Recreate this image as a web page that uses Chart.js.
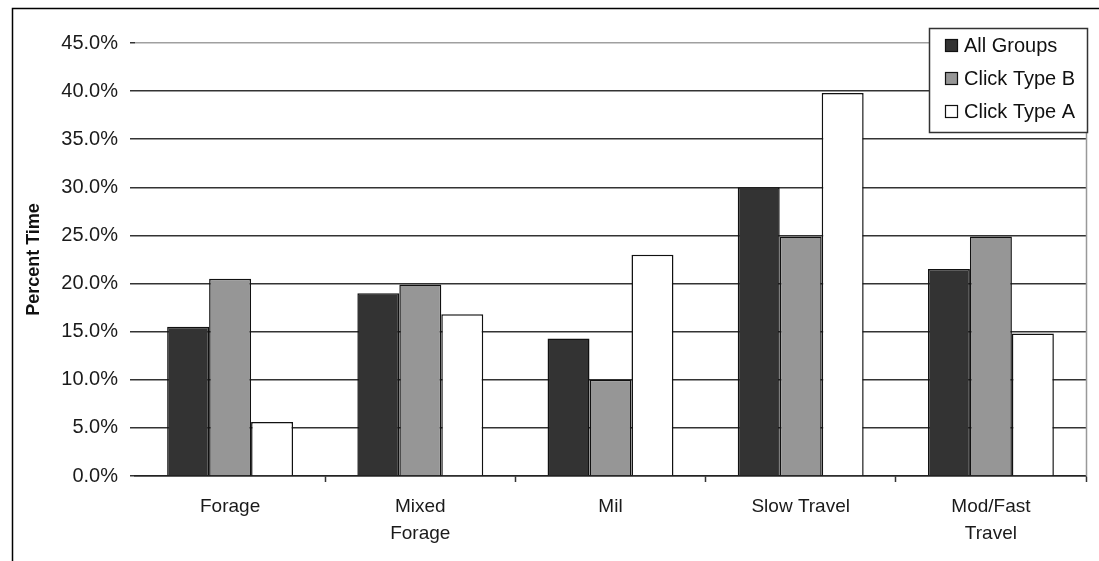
<!DOCTYPE html>
<html>
<head>
<meta charset="utf-8">
<title>Percent Time by Activity</title>
<script src="https://cdn.jsdelivr.net/npm/chart.js@4.4.1/dist/chart.umd.min.js"></script>
<style>
  html, body { margin: 0; padding: 0; background: #fff; }
  #wrap { width: 1099px; height: 561px; }
</style>
</head>
<body>
<div id="wrap"><canvas id="myChart" width="1099" height="561"></canvas></div>
<script>
// chart data (percent values)
const categories = ['Forage', ['Mixed', 'Forage'], 'Mil', 'Slow Travel', ['Mod/Fast', 'Travel']];
const allGroups = [15.5, 19.0, 14.3, 30.0, 21.5];
const clickTypeB = [20.5, 19.9, 10.0, 24.9, 24.9];
const clickTypeA = [5.6, 16.8, 23.0, 39.8, 14.8];
const yTicks = [0, 5, 10, 15, 20, 25, 30, 35, 40, 45];

const FONT = '"Liberation Sans", Arial, sans-serif';

// outer frame + plot border on the right
const framePlugin = {
    id: 'frame',
    beforeDraw(chart) {
        const ctx = chart.ctx;
        ctx.save();
        ctx.fillStyle = '#ffffff';
        ctx.fillRect(0, 0, chart.width, chart.height);
        ctx.strokeStyle = '#000';
        ctx.lineWidth = 1.5;
        ctx.beginPath();
        ctx.moveTo(12.5, chart.height);
        ctx.lineTo(12.5, 8.5);
        ctx.lineTo(chart.width, 8.5);
        ctx.stroke();
        ctx.restore();
    },
    afterDraw(chart) {
        const a = chart.chartArea;
        const ctx = chart.ctx;
        ctx.save();
        ctx.strokeStyle = '#999';
        ctx.lineWidth = 1.5;
        ctx.beginPath();
        ctx.moveTo(Math.round(a.right) + 0.5, a.top);
        ctx.lineTo(Math.round(a.right) + 0.5, a.bottom);
        ctx.stroke();
        ctx.restore();
    }
};

// boxed legend sitting over the top right of the plot
const boxLegend = {
    id: 'boxLegend',
    afterDraw(chart) {
        const ctx = chart.ctx;
        const x = 929.5, y = 28.5, w = 158, h = 104;
        ctx.save();
        ctx.fillStyle = '#fff';
        ctx.fillRect(x, y, w, h);
        ctx.strokeStyle = '#333';
        ctx.lineWidth = 1.5;
        ctx.strokeRect(x, y, w, h);
        ctx.font = '20px ' + FONT;
        ctx.textBaseline = 'middle';
        ctx.lineWidth = 1.2;
        chart.data.datasets.forEach((ds, i) => {
            const cy = 46 + i * 33;
            ctx.fillStyle = ds.backgroundColor;
            ctx.fillRect(945.5, cy - 6.5, 12, 12);
            ctx.strokeStyle = '#111';
            ctx.strokeRect(945.5, cy - 6.5, 12, 12);
            ctx.fillStyle = '#111';
            ctx.fillText(ds.label, 964, cy);
        });
        ctx.restore();
    }
};

const data = {
    labels: categories,
    datasets: [
        { label: 'All Groups', data: allGroups, backgroundColor: '#333333' },
        { label: 'Click Type B', data: clickTypeB, backgroundColor: '#969696' },
        { label: 'Click Type A', data: clickTypeA, backgroundColor: '#ffffff' }
    ].map(d => Object.assign(d, {
        borderColor: '#111',
        borderWidth: 1.5,
        borderSkipped: 'bottom',
        categoryPercentage: 0.662,
        barPercentage: 1.0
    }))
};

new Chart(document.getElementById('myChart'), {
    type: 'bar',
    data: data,
    plugins: [framePlugin, boxLegend],
    options: {
        responsive: false,
        animation: false,
        layout: { padding: { top: 43, right: 13, bottom: 0, left: 0 } },
        plugins: {
            legend: { display: false },
            tooltip: { enabled: false }
        },
        scales: {
            x: {
                afterFit(scale) { scale.height = 85; },
                border: { color: '#222', width: 1.5 },
                grid: {
                    offset: true,
                    drawOnChartArea: false,
                    drawTicks: true,
                    tickLength: 6,
                    tickWidth: 1.5,
                    tickColor: c => c.index === 0 ? 'rgba(0,0,0,0)' : '#333'
                },
                ticks: {
                    color: '#1a1a1a',
                    padding: 11,
                    maxRotation: 0,
                    autoSkip: false,
                    font: { family: FONT, size: 19, lineHeight: 1.42 }
                }
            },
            y: {
                min: 0,
                max: 45,
                afterFit(scale) { scale.width = 135; },
                afterBuildTicks(scale) { scale.ticks = yTicks.map(v => ({ value: v })); },
                border: { display: false },
                grid: {
                    color: c => c.tick && c.tick.value === 45 ? '#a0a0a0' : '#333',
                    lineWidth: 1.5,
                    drawTicks: true,
                    tickLength: 5,
                    tickWidth: 1.5,
                    tickColor: '#333'
                },
                ticks: {
                    color: '#1a1a1a',
                    padding: 12,
                    font: { family: FONT, size: 20 },
                    callback: v => v.toFixed(1) + '%'
                },
                title: {
                    display: true,
                    text: 'Percent Time',
                    color: '#111',
                    padding: { top: 23, bottom: 0 },
                    font: { family: FONT, size: 18, weight: 'bold' }
                }
            }
        }
    }
});
</script>
</body>
</html>
